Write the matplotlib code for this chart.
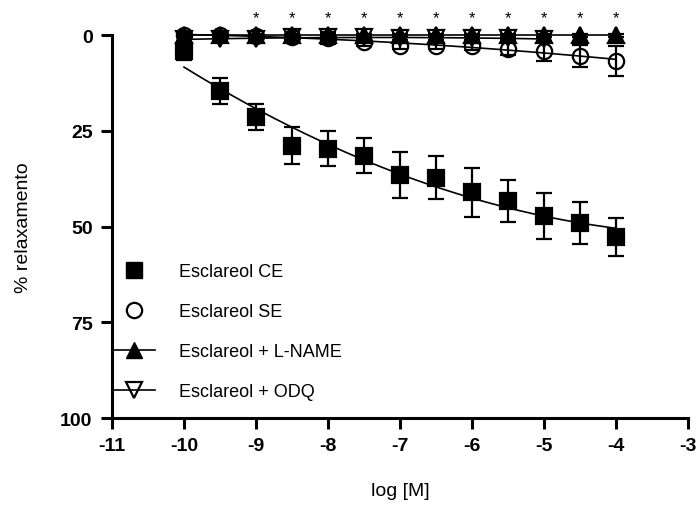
"""Curva concentração-resposta do esclareol (relaxamento %) em anel de aorta."""

import numpy as np
import matplotlib.pyplot as plt
from matplotlib.lines import Line2D

plt.rcParams["font.family"] = ["Liberation Sans", "DejaVu Sans"]

# log [M]
log_conc = [-10, -9.5, -9, -8.5, -8, -7.5, -7, -6.5, -6, -5.5, -5, -4.5, -4]
log_conc_odq = log_conc[:11]

# Esclareol CE (com endotélio)
ce_mean = [4.2, 14.6, 21.4, 28.9, 29.7, 31.5, 36.5, 37.3, 41.0, 43.3, 47.3, 49.0, 52.7]
ce_sem = [2.3, 3.3, 3.4, 4.8, 4.6, 4.6, 6.0, 5.6, 6.4, 5.5, 6.0, 5.5, 5.0]

# Esclareol SE (sem endotélio)
se_mean = [0.0, 0.0, 0.2, 0.5, 0.8, 1.8, 2.8, 2.9, 3.0, 3.6, 4.2, 5.4, 6.8]
se_sem = [0.4, 0.4, 0.5, 0.8, 1.5, 1.0, 0.8, 0.8, 1.0, 1.7, 2.5, 2.9, 3.9]

# Esclareol + L-NAME
lname_mean = [0.0, 0.0, 0.0, 0.1, 0.1, 0.1, 0.1, 0.1, 0.1, 0.1, 0.1, 0.1, 0.1]
lname_sem = [0.3, 0.3, 0.3, 0.3, 0.3, 0.3, 0.3, 0.3, 0.3, 0.3, 0.3, 0.3, 0.3]

# Esclareol + ODQ
odq_mean = [1.0, 1.1, 1.1, 0.5, 0.6, 0.6, 0.7, 0.7, 0.8, 0.9, 1.0]
odq_sem = [0.5, 0.5, 0.5, 0.5, 0.5, 0.5, 0.5, 0.5, 0.5, 0.5, 0.5]

# posições com diferença significativa
star_x = [-9, -8.5, -8, -7.5, -7, -6.5, -6, -5.5, -5, -4.5, -4]
star_y = -4.6

x_ticks = [-11, -10, -9, -8, -7, -6, -5, -4, -3]
y_ticks = [0, 25, 50, 75, 100]

labels = ["Esclareol CE", "Esclareol SE", "Esclareol + L-NAME", "Esclareol + ODQ"]


def plot_series(ax, x, mean, sem, marker, face, ms, degree):
    ax.errorbar(
        x, mean, yerr=sem, fmt=marker, color="black", mfc=face, mec="black",
        ms=ms, mew=1.6, elinewidth=1.6, capsize=5.5, capthick=1.6,
        linestyle="none", clip_on=False, zorder=3,
    )
    # curva ajustada aos pontos médios
    coef = np.polyfit(x, mean, degree)
    xs = np.linspace(min(x), max(x), 200)
    ax.plot(xs, np.polyval(coef, xs), color="black", lw=1.2, clip_on=False, zorder=2)


fig = plt.figure(figsize=(6.97, 5.10), dpi=100)
ax = fig.add_axes([0.1607, 0.1784, 0.8263, 0.7510])

plot_series(ax, log_conc, ce_mean, ce_sem, "s", "black", 11, 2)
plot_series(ax, log_conc, se_mean, se_sem, "o", "none", 11, 2)
plot_series(ax, log_conc_odq, odq_mean, odq_sem, "v", "none", 11, 2)
plot_series(ax, log_conc, lname_mean, lname_sem, "^", "black", 11, 0)

for sx in star_x:
    ax.text(sx, star_y, "*", ha="center", va="center", fontsize=12, clip_on=False)

ax.set_xlim(-11, -3)
ax.set_ylim(100, 0)
ax.set_xticks(x_ticks)
ax.set_yticks(y_ticks)
ax.set_xticklabels([str(v) for v in x_ticks], fontsize=14, fontweight="bold")
ax.set_yticklabels([str(v) for v in y_ticks], fontsize=14, fontweight="bold")
ax.tick_params(length=8, width=2.2, pad=6)
for side in ("top", "right"):
    ax.spines[side].set_visible(False)
for side in ("left", "bottom"):
    ax.spines[side].set_linewidth(2.2)

ax.set_xlabel("log [M]", fontsize=14, labelpad=20)
ax.set_ylabel("% relaxamento", fontsize=14, labelpad=20)

handles = [
    Line2D([], [], marker="s", color="black", ls="none", ms=11),
    Line2D([], [], marker="o", color="black", mfc="none", ls="none", ms=11, mew=1.6),
    Line2D([], [], marker="^", color="black", lw=1.2, ms=11),
    Line2D([], [], marker="v", color="black", mfc="none", lw=1.2, ms=11, mew=1.6),
]
ax.legend(
    handles, labels, loc="upper left", bbox_to_anchor=(0.0, 0.405), frameon=False,
    fontsize=13, handlelength=2.4, handletextpad=1.3, labelspacing=1.28, borderpad=0,
    borderaxespad=0,
)

fig.savefig("out.png", dpi=100)
